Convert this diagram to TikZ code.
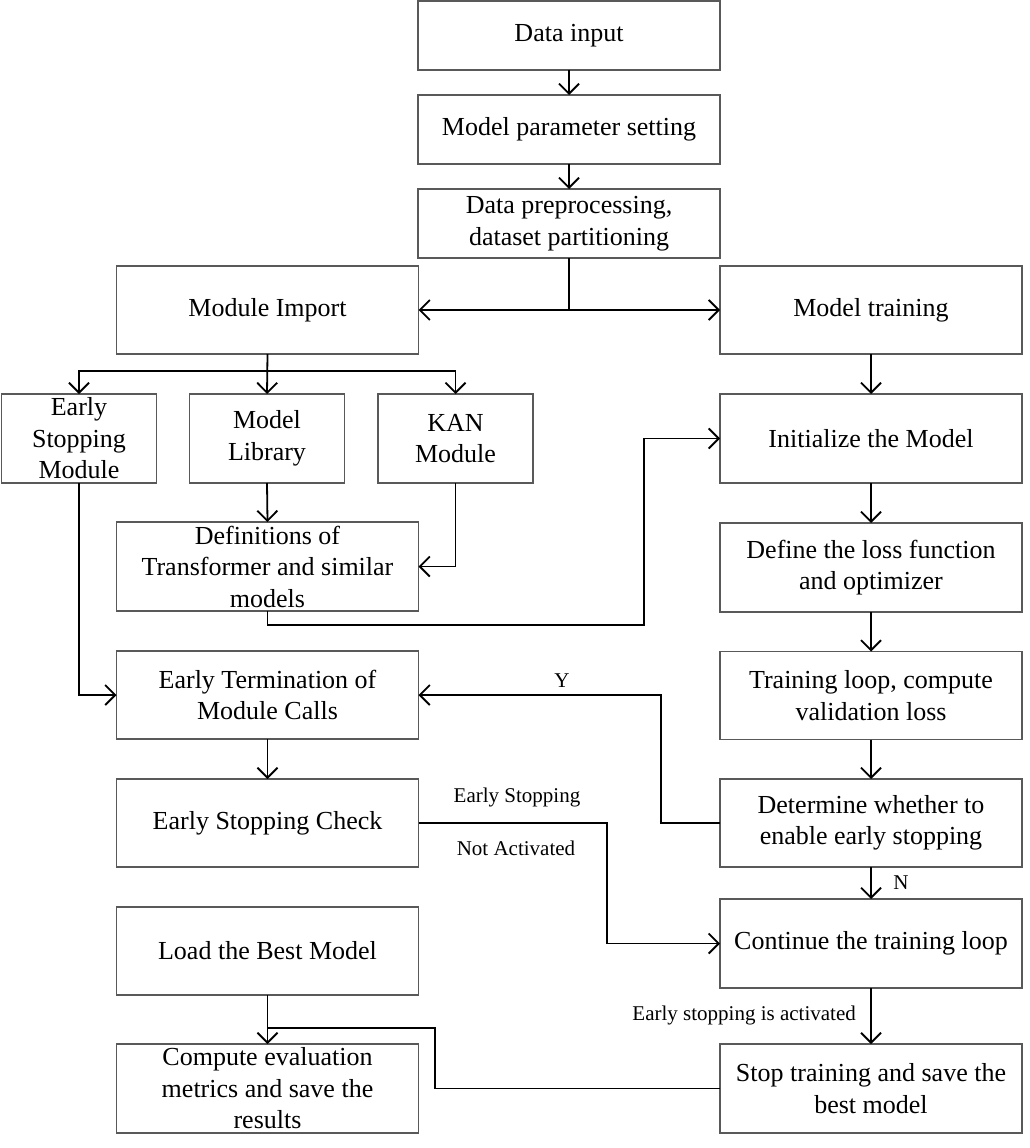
\documentclass[tikz,border=0pt]{standalone}
\usepackage{fontspec}
\setmainfont{Liberation Serif}
\usetikzlibrary{arrows.meta}
\begin{document}
\begin{tikzpicture}[x=1pt,y=-1pt,
  box/.style={draw=black!65, line width=1.1pt, inner sep=0pt, outer sep=0pt, align=center,
    font=\fontsize{26}{31.5}\selectfont},
  wide/.style={box, minimum width=302pt},
  narrow/.style={box, minimum width=155pt},
  arr/.style={line width=1.8pt, -{Straight Barb[length=10pt,width=20pt,line width=1.8pt]}},
  ln/.style={line width=1.8pt},
  lbl/.style={font=\fontsize{21}{25}\selectfont, inner sep=1pt}]
\useasboundingbox (0,0) rectangle (1030,1148);
\fill[white] (0,0) rectangle (1030,1148);
% nodes
\node[wide, minimum height=69pt] (in) at (569,35.5) {Data input};
\node[wide, minimum height=69pt] (par) at (569,129.5) {Model parameter setting};
\node[wide, minimum height=69pt] (pre) at (569,223.5) {Data preprocessing,\\dataset partitioning};
\node[wide, minimum height=88pt] (imp) at (267.5,310) {Module Import};
\node[wide, minimum height=88pt] (trn) at (871,310) {Model training};
\node[narrow, minimum height=89pt] (es) at (79,438.5) {Early\\Stopping\\Module};
\node[narrow, minimum height=89pt] (lib) at (267,438.5) {Model\\Library};
\node[narrow, minimum height=89pt] (kan) at (455.5,438.5) {KAN\\Module};
\node[wide, minimum height=89pt] (init) at (871,438.5) {Initialize the Model};
\node[wide, minimum height=89pt] (def) at (267.5,566.5) {Definitions of\\Transformer and similar\\models};
\node[wide, minimum height=89pt] (loss) at (871,567.5) {Define the loss function\\and optimizer};
\node[wide, minimum height=88pt] (term) at (267.5,695) {Early Termination of\\Module Calls};
\node[wide, minimum height=88pt] (loop) at (871,695.5) {Training loop, compute\\validation loss};
\node[wide, minimum height=88pt] (chk) at (267.5,823) {Early Stopping Check};
\node[wide, minimum height=88pt] (det) at (871,823) {Determine whether to\\enable early stopping};
\node[wide, minimum height=89pt] (cont) at (871,943.5) {Continue the training loop};
\node[wide, minimum height=88pt] (best) at (267.5,951) {Load the Best Model};
\node[wide, minimum height=89pt] (comp) at (267.5,1088.5) {Compute evaluation\\metrics and save the\\results};
\node[wide, minimum height=89pt] (stop) at (871,1088.5) {Stop training and save the\\best model};
% coordinates
\coordinate (j1) at (569,310);
\coordinate (j2) at (267.5,371);
\coordinate (c1) at (644,625);
\coordinate (c2) at (661,823);
\coordinate (c3) at (607,823);
\coordinate (c4) at (435,1028);
% connectors
\draw[arr] (in) -- (par);
\draw[arr] (par) -- (pre);
\draw[ln] (pre.south) -- (j1);
\draw[arr] (j1) -- (imp.east);
\draw[arr] (j1) -- (trn.west);
\draw[ln] (imp.south) -- (j2);
\draw[arr] (j2) -| (es.north);
\draw[arr] (j2) -| (kan.north);
\draw[arr] (imp.south) -- (lib.north);
\draw[arr] (lib.south) -- (def.north);
\draw[arr] (kan.south) |- (def.east);
\draw[arr] (def.south) |- (c1) |- (init.west);
\draw[arr] (es.south) |- (term.west);
\draw[arr] (term) -- (chk);
\draw[arr] (trn) -- (init);
\draw[arr] (init) -- (loss);
\draw[arr] (loss) -- (loop);
\draw[arr] (loop) -- (det);
\draw[arr] (det) -- (cont);
\draw[arr] (cont) -- (stop);
\draw[arr] (det.west) -- (c2) |- (term.east);
\draw[arr] (chk.east) -- (c3) |- (cont.west);
\draw[arr] (best) -- (comp);
\draw[ln] (stop.west) -| (c4) -- (best.south |- c4);
% labels
\node[lbl] (lY) at (562,681) {Y};
\node[lbl] (lN) at (901,883) {N};
\node[lbl] (lES) at (517,797) {Early Stopping};
\node[lbl] (lNA) at (516,848) {Not Activated};
\node[lbl, anchor=east] (lAct) at (857,1015) {Early stopping is activated};
\end{tikzpicture}
\end{document}
